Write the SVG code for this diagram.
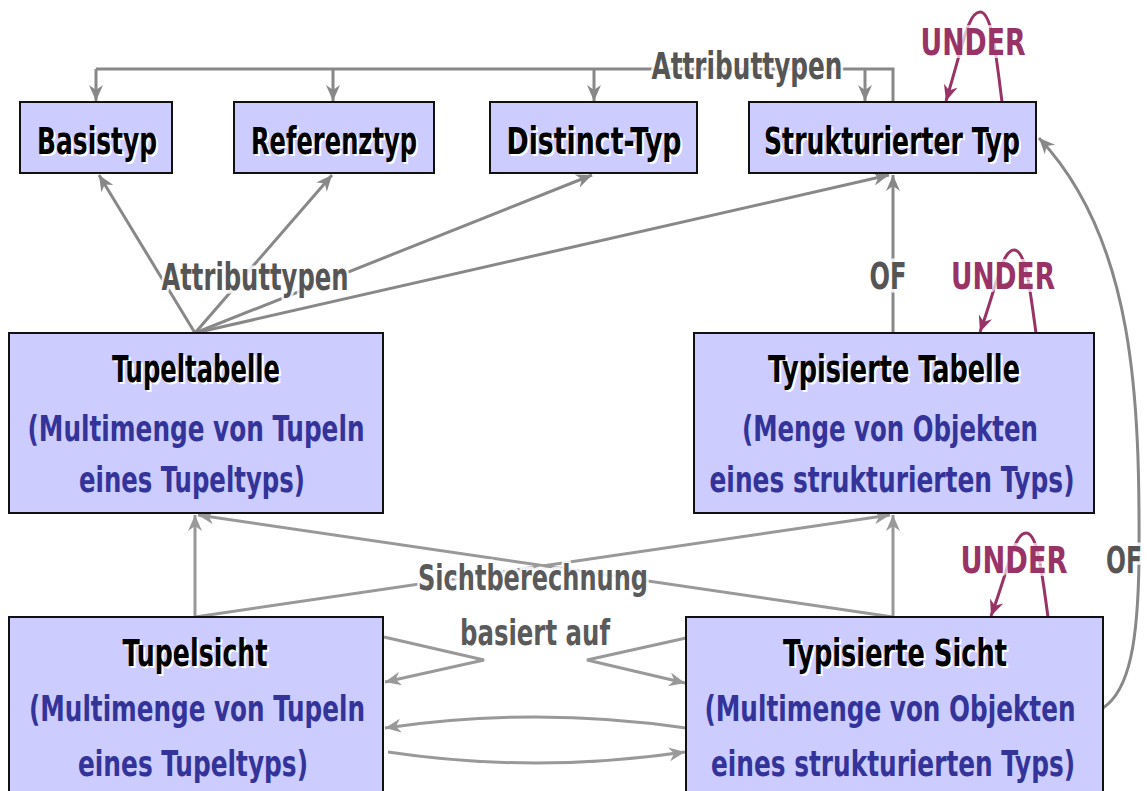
<svg xmlns="http://www.w3.org/2000/svg" width="1147" height="791" viewBox="0 0 1147 791">
<style>
.box{fill:#ccccff;stroke:#111;stroke-width:2}
.t{font-family:"Liberation Sans Narrow","DejaVu Sans Condensed","DejaVu Sans",sans-serif;font-weight:bold;text-anchor:middle}
.title{font-size:37px;fill:#000}
.shadow{font-size:37px;fill:#fff}
.sub{font-size:36px;fill:#333399}
.lbl{font-size:37px;fill:#555;stroke:#fff;stroke-width:7;stroke-opacity:0.85;stroke-linejoin:round;paint-order:stroke}
.lbl2{font-size:35px;fill:#5a5a5a;stroke:#fff;stroke-width:7;stroke-opacity:0.85;stroke-linejoin:round;paint-order:stroke}
.und{font-size:37px;fill:#993366;stroke:#fff;stroke-width:6;stroke-opacity:0.7;stroke-linejoin:round;paint-order:stroke}
.g{fill:none;stroke:#888;stroke-width:3}
.g2{fill:none;stroke:#999;stroke-width:3}
.p{fill:none;stroke:#993366;stroke-width:3}
</style>
<defs>
<marker id="ag" markerUnits="userSpaceOnUse" markerWidth="18" markerHeight="16" refX="16" refY="7" orient="auto" viewBox="0 0 18 16"><path d="M0,0 L16,7 L0,14 L5,7 z" fill="#888"/></marker>
<marker id="ag2" markerUnits="userSpaceOnUse" markerWidth="18" markerHeight="16" refX="16" refY="7" orient="auto" viewBox="0 0 18 16"><path d="M0,0 L16,7 L0,14 L5,7 z" fill="#999"/></marker>
<marker id="ap" markerUnits="userSpaceOnUse" markerWidth="18" markerHeight="16" refX="16" refY="7" orient="auto" viewBox="0 0 18 16"><path d="M0,0 L16,7 L0,14 L5,7 z" fill="#993366"/></marker>
</defs>

<g id="connectors">
  <path class="g" d="M893,101 L893,69 L96,69"/>
  <path class="g" d="M96,69 L96,101" marker-end="url(#ag)"/>
  <path class="g" d="M333,69 L333,101" marker-end="url(#ag)"/>
  <path class="g" d="M594,69 L594,101" marker-end="url(#ag)"/>
  <path class="g" d="M865,69 L865,101" marker-end="url(#ag)"/>
  <path class="g" d="M195,333 L99,175" marker-end="url(#ag)"/>
  <path class="g" d="M195,333 L332,175" marker-end="url(#ag)"/>
  <path class="g" d="M195,333 L592,175" marker-end="url(#ag)"/>
  <path class="g" d="M195,333 L889,175" marker-end="url(#ag)"/>
  <path class="g" d="M893,333 L893,175" marker-end="url(#ag)"/>
  <path class="g" d="M1103,708 C1130,690 1138,640 1139,560 C1140,400 1135,240 1039,138" marker-end="url(#ag)"/>
  <path class="p" d="M1002,102 C996,55 992,12 980,12 C968,12 963,45 946,101" marker-end="url(#ap)"/>
  <path class="p" d="M1036,333 C1030,290 1026,250 1014,250 C1002,250 997,285 980,332" marker-end="url(#ap)"/>
  <path class="p" d="M1048,617 C1042,574 1038,533 1026,533 C1014,533 1009,568 991,616" marker-end="url(#ap)"/>
  <path class="g2" d="M195,617 L195,515" marker-end="url(#ag2)"/>
  <path class="g2" d="M195,617 L890,515" marker-end="url(#ag2)"/>
  <path class="g2" d="M893,617 L198,515" marker-end="url(#ag2)"/>
  <path class="g2" d="M893,617 L893,515" marker-end="url(#ag2)"/>
  <path class="g2" d="M384,637 L484,660 L385,682" marker-end="url(#ag2)"/>
  <path class="g2" d="M686,638 L587,660 L685,683" marker-end="url(#ag2)"/>
  <path class="g2" d="M686,728 Q535,706 385,728" marker-end="url(#ag2)"/>
  <path class="g2" d="M388,752 Q535,774 685,752" marker-end="url(#ag2)"/>
</g>

<g id="labels">
  <text class="t lbl" x="747" y="79" textLength="191" lengthAdjust="spacingAndGlyphs">Attributtypen</text>
  <text class="t lbl" x="255" y="290" textLength="187" lengthAdjust="spacingAndGlyphs">Attributtypen</text>
  <text class="t lbl" x="888" y="289" textLength="37" lengthAdjust="spacingAndGlyphs">OF</text>
  <text class="t lbl" x="1124" y="573" textLength="36" lengthAdjust="spacingAndGlyphs">OF</text>
  <text class="t und" x="973" y="55" textLength="105" lengthAdjust="spacingAndGlyphs">UNDER</text>
  <text class="t und" x="1003" y="289" textLength="104" lengthAdjust="spacingAndGlyphs">UNDER</text>
  <text class="t und" x="1014" y="573" textLength="107" lengthAdjust="spacingAndGlyphs">UNDER</text>
  <text class="t lbl2" x="533" y="590" textLength="230" lengthAdjust="spacingAndGlyphs">Sichtberechnung</text>
  <text class="t lbl2" x="535" y="645" textLength="150" lengthAdjust="spacingAndGlyphs">basiert auf</text>
</g>

<g id="basistyp">
  <rect class="box" x="20" y="102" width="152" height="71"/>
  <text class="t shadow" x="99" y="156" textLength="120" lengthAdjust="spacingAndGlyphs">Basistyp</text>
  <text class="t title" x="97" y="154" textLength="120" lengthAdjust="spacingAndGlyphs">Basistyp</text>
</g>
<g id="referenztyp">
  <rect class="box" x="234" y="102" width="200" height="71"/>
  <text class="t shadow" x="336" y="156" textLength="166" lengthAdjust="spacingAndGlyphs">Referenztyp</text>
  <text class="t title" x="334" y="154" textLength="166" lengthAdjust="spacingAndGlyphs">Referenztyp</text>
</g>
<g id="distinct-typ">
  <rect class="box" x="490" y="102" width="207" height="71"/>
  <text class="t shadow" x="596" y="156" textLength="175" lengthAdjust="spacingAndGlyphs">Distinct-Typ</text>
  <text class="t title" x="594" y="154" textLength="175" lengthAdjust="spacingAndGlyphs">Distinct-Typ</text>
</g>
<g id="strukturierter-typ">
  <rect class="box" x="749" y="102" width="287" height="71"/>
  <text class="t shadow" x="894" y="156" textLength="256" lengthAdjust="spacingAndGlyphs">Strukturierter Typ</text>
  <text class="t title" x="892" y="154" textLength="256" lengthAdjust="spacingAndGlyphs">Strukturierter Typ</text>
</g>
<g id="tupeltabelle">
  <rect class="box" x="9" y="333" width="374" height="180"/>
  <text class="t shadow" x="198" y="384" textLength="168" lengthAdjust="spacingAndGlyphs">Tupeltabelle</text>
  <text class="t title" x="196" y="382" textLength="168" lengthAdjust="spacingAndGlyphs">Tupeltabelle</text>
  <text class="t sub" x="196" y="441" textLength="337" lengthAdjust="spacingAndGlyphs">(Multimenge von Tupeln</text>
  <text class="t sub" x="192" y="492" textLength="226" lengthAdjust="spacingAndGlyphs">eines Tupeltyps)</text>
</g>
<g id="typisierte-tabelle">
  <rect class="box" x="694" y="333" width="400" height="180"/>
  <text class="t shadow" x="896" y="384" textLength="252" lengthAdjust="spacingAndGlyphs">Typisierte Tabelle</text>
  <text class="t title" x="894" y="382" textLength="252" lengthAdjust="spacingAndGlyphs">Typisierte Tabelle</text>
  <text class="t sub" x="890" y="441" textLength="296" lengthAdjust="spacingAndGlyphs">(Menge von Objekten</text>
  <text class="t sub" x="892" y="492" textLength="365" lengthAdjust="spacingAndGlyphs">eines strukturierten Typs)</text>
</g>
<g id="tupelsicht">
  <rect class="box" x="9" y="617" width="374" height="190"/>
  <text class="t shadow" x="197" y="668" textLength="145" lengthAdjust="spacingAndGlyphs">Tupelsicht</text>
  <text class="t title" x="195" y="666" textLength="145" lengthAdjust="spacingAndGlyphs">Tupelsicht</text>
  <text class="t sub" x="197" y="721" textLength="336" lengthAdjust="spacingAndGlyphs">(Multimenge von Tupeln</text>
  <text class="t sub" x="193" y="776" textLength="230" lengthAdjust="spacingAndGlyphs">eines Tupeltyps)</text>
</g>
<g id="typisierte-sicht">
  <rect class="box" x="686" y="617" width="417" height="190"/>
  <text class="t shadow" x="897" y="668" textLength="224" lengthAdjust="spacingAndGlyphs">Typisierte Sicht</text>
  <text class="t title" x="895" y="666" textLength="224" lengthAdjust="spacingAndGlyphs">Typisierte Sicht</text>
  <text class="t sub" x="890" y="721" textLength="371" lengthAdjust="spacingAndGlyphs">(Multimenge von Objekten</text>
  <text class="t sub" x="893" y="776" textLength="364" lengthAdjust="spacingAndGlyphs">eines strukturierten Typs)</text>
</g>
</svg>
